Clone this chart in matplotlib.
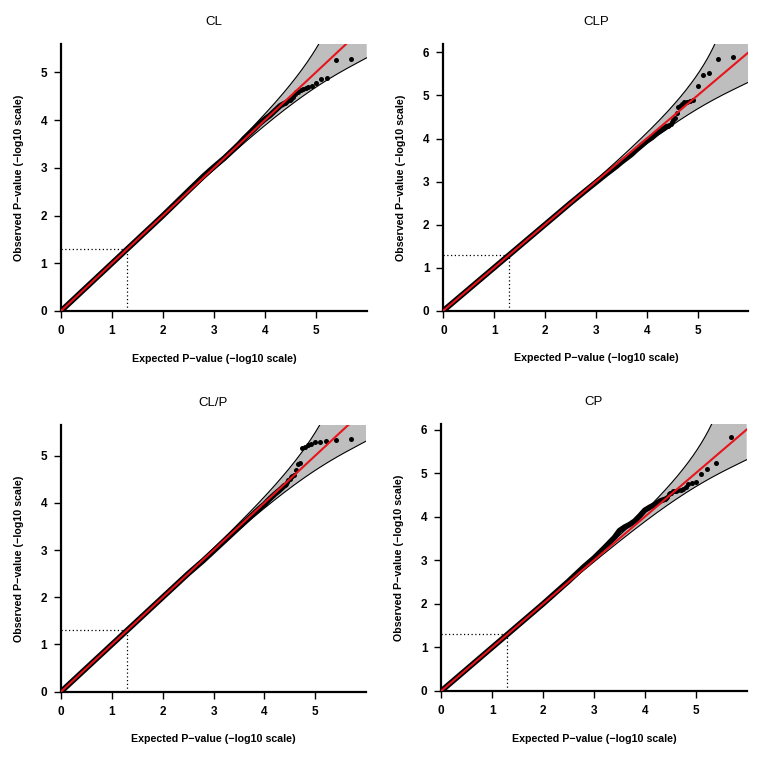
import numpy as np
import matplotlib
matplotlib.use('Agg')
import matplotlib.pyplot as plt

plt.rcParams['font.family'] = ['Liberation Sans', 'DejaVu Sans']

# ================= Data =================
n_snps = 500000
titles = ['CL', 'CLP', 'CL/P', 'CP']

# expected -log10 p of the top-ranked SNPs (rank 1..)
tail_exp = [5.70, 5.40, 5.22, 5.10, 5.00, 4.92, 4.85, 4.80, 4.74, 4.70,
            4.66, 4.62, 4.59, 4.55, 4.52, 4.50, 4.47, 4.44, 4.42, 4.40]

cl_tail = [5.29, 5.27, 4.88, 4.86, 4.77, 4.72, 4.70, 4.68, 4.66, 4.63,
           4.60, 4.58, 4.55, 4.48, 4.44, 4.43, 4.42, 4.40, 4.38, 4.36]
clp_tail = [5.89, 5.84, 5.52, 5.48, 5.22, 4.90, 4.88, 4.86, 4.84, 4.80,
            4.76, 4.74, 4.60, 4.47, 4.44, 4.38, 4.33, 4.31, 4.30, 4.28]
clorp_tail = [5.35, 5.33, 5.32, 5.30, 5.29, 5.25, 5.22, 5.18, 5.17, 4.85,
              4.83, 4.69, 4.60, 4.57, 4.55, 4.50, 4.48, 4.44, 4.40, 4.37]
cp_tail = [5.82, 5.24, 5.10, 4.97, 4.79, 4.77, 4.76, 4.68, 4.64, 4.62,
           4.61, 4.60, 4.59, 4.58, 4.55, 4.54, 4.52, 4.45, 4.42, 4.40]

# bulk of the distribution (dense, drawn as a thick band of points)
bulk_exp = [0.0, 0.5, 1.0, 1.5, 2.0, 2.5, 2.8, 3.0, 3.2, 3.4, 3.5, 3.6,
            3.7, 3.8, 3.9, 4.0, 4.1, 4.2, 4.3, 4.4]
cl_bulk = [0.0, 0.5, 1.0, 1.5, 2.0, 2.52, 2.83, 3.02, 3.2, 3.4, 3.5, 3.62,
           3.72, 3.82, 3.93, 4.02, 4.1, 4.2, 4.3, 4.36]
clp_bulk = [0.0, 0.5, 1.0, 1.5, 2.0, 2.5, 2.79, 2.98, 3.17, 3.35, 3.45, 3.54,
            3.63, 3.74, 3.84, 3.94, 4.02, 4.12, 4.2, 4.28]
clorp_bulk = [0.0, 0.5, 1.0, 1.5, 2.0, 2.5, 2.78, 2.98, 3.18, 3.38, 3.48, 3.58,
              3.68, 3.78, 3.88, 3.97, 4.08, 4.18, 4.27, 4.37]
cp_bulk = [0.0, 0.5, 1.0, 1.5, 2.0, 2.52, 2.85, 3.05, 3.28, 3.52, 3.68, 3.76,
           3.82, 3.9, 4.02, 4.15, 4.22, 4.28, 4.36, 4.40]

tails = [cl_tail, clp_tail, clorp_tail, cp_tail]
bulks = [cl_bulk, clp_bulk, clorp_bulk, cp_bulk]

sig_line = 1.3  # -log10(0.05)

# axes rectangles (figure fractions)
rects = [[0.0801, 0.5892, 0.4012, 0.3523],
         [0.5818, 0.5896, 0.4003, 0.3519],
         [0.0801, 0.0863, 0.4003, 0.3523],
         [0.5791, 0.0872, 0.4008, 0.3523]]


def gamma_quantile(shape, z):
    """Wilson-Hilferty approximation of Gamma(shape, 1) quantile"""
    k = 2.0 * shape
    base = 1 - 2.0 / (9 * k) + z * np.sqrt(2.0 / (9 * k))
    q = np.where(base > 0, k * np.clip(base, 1e-9, None) ** 3 / 2.0, 1e-12)
    return q


def main():
    fig = plt.figure(figsize=(7.62, 7.57), dpi=100)
    xmax = max(tail_exp) + 0.3
    xgrid = np.linspace(0, xmax, 600)
    ranks = n_snps / 10 ** xgrid
    logn = np.log10(n_snps)
    upper = logn - np.log10(gamma_quantile(ranks, -1.96))
    lower = logn - np.log10(gamma_quantile(ranks, 1.96))

    for k in range(4):
        ax = fig.add_axes(rects[k])
        ymax = max(tails[k]) + 0.3

        # confidence band
        ax.fill_between(xgrid, lower, np.minimum(upper, 50), color='#bebebe', lw=0, zorder=1)
        ax.plot(xgrid, upper, color='black', lw=0.8, zorder=2)
        ax.plot(xgrid, lower, color='black', lw=0.8, zorder=2)

        # significance guide lines
        ax.plot([0, sig_line], [sig_line, sig_line], color='black', lw=0.9, ls=(0, (1, 2)), zorder=2)
        ax.plot([sig_line, sig_line], [0, sig_line], color='black', lw=0.9, ls=(0, (1, 2)), zorder=2)

        # observed points
        ax.plot(bulk_exp, bulks[k], color='black', lw=4.0, solid_capstyle='round', zorder=3)
        ax.plot(tail_exp, tails[k], 'o', color='black', ms=3.6, mec='none', zorder=3)

        # diagonal
        ax.plot([0, xmax], [0, xmax], color='#e8141c', lw=1.5, zorder=4)

        ax.set_xlim(0, xmax)
        ax.set_ylim(0, ymax)
        ax.set_xticks(range(0, 6))
        ax.set_yticks(range(0, int(ymax) + 1))
        for s in ['top', 'right']:
            ax.spines[s].set_visible(False)
        for s in ['left', 'bottom']:
            ax.spines[s].set_linewidth(1.6)
        ax.tick_params(direction='out', length=5, width=1.0, labelsize=8.5, pad=5)
        for lab in ax.get_xticklabels() + ax.get_yticklabels():
            lab.set_fontweight('bold')

        ax.set_title(titles[k], fontsize=9.5, pad=14)
        ax.set_xlabel('Expected P\u2212value (\u2212log10 scale)', fontsize=7.7,
                      fontweight='bold', labelpad=12)
        ax.set_ylabel('Observed P\u2212value (\u2212log10 scale)', fontsize=7.7,
                      fontweight='bold', labelpad=12)

    plt.savefig('out.png', dpi=100)
    plt.close(fig)


main()
